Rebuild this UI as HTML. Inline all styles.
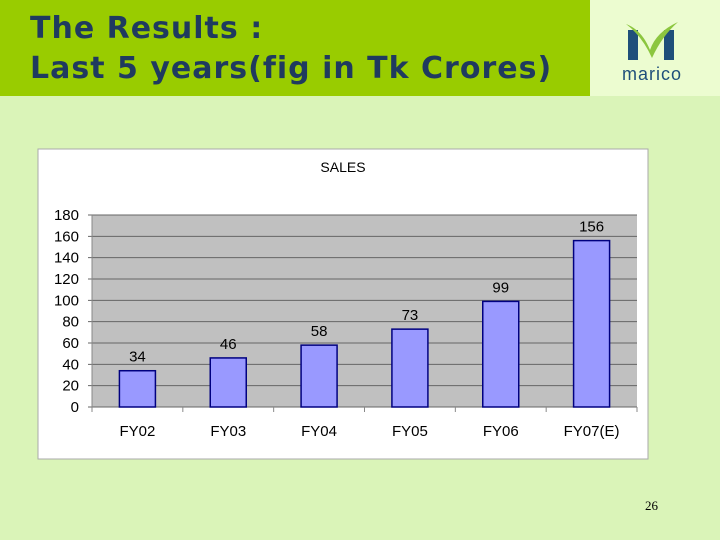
<!DOCTYPE html>
<html><head><meta charset="utf-8"><style>
body{margin:0;width:720px;height:540px;background:#daf4b8;position:relative;overflow:hidden;font-family:"Liberation Sans",sans-serif}
#hdr{position:absolute;left:0;top:0;width:590px;height:96px;background:#99cc00}
#title{position:absolute;left:30px;top:9px;font:bold 30px/40px "DejaVu Sans",sans-serif;color:#1f3a5f;letter-spacing:1px;white-space:nowrap}
#logo{position:absolute;left:590px;top:0;width:130px;height:96px;background:#ecfcd0}
#pg{position:absolute;left:645px;top:498px;font:13px "Liberation Serif",serif;color:#000}
</style></head><body>
<div id="hdr"></div>
<div id="title">The Results :<br>Last 5 years(fig in Tk Crores)</div>
<div id="logo">
<svg width="130" height="96">
<rect x="38" y="30" width="10" height="30" fill="#1f4f7a"/>
<rect x="74" y="30" width="10" height="30" fill="#1f4f7a"/>
<path d="M36 24 Q52 30 60 50 Q66 32 88 22 Q72 36 62 58 Q52 36 36 24Z" fill="#8cc63f"/>
<text x="62" y="80" text-anchor="middle" font-family="Liberation Sans,sans-serif" font-size="18" fill="#1f4f7a" letter-spacing="1">marico</text>
</svg></div>
<svg id="chart" style="position:absolute;left:0;top:0" width="720" height="540"></svg>
<div id="pg">26</div>
<script>
const categories=["FY02","FY03","FY04","FY05","FY06","FY07(E)"];
const sales=[34,46,58,73,99,156];
const yTicks=[0,20,40,60,80,100,120,140,160,180];
const NS="http://www.w3.org/2000/svg",svg=document.getElementById('chart');
function el(t,a,txt){const e=document.createElementNS(NS,t);for(const k in a)e.setAttribute(k,a[k]);if(txt!=null)e.textContent=txt;svg.appendChild(e);return e;}
const L=92,R=637,T=215,B=407,yMax=180;
const y=v=>B-(v/yMax)*(B-T);
const cw=(R-L)/categories.length;
const x=i=>L+cw*(i+0.5);
let e=el('rect',{x:38,y:149,width:610,height:310,fill:'#fff',stroke:'#aaa'});


e=el('text',{x:343,y:172,'text-anchor':'middle','font-size':14,fill:'#000'},'SALES');


e=el('rect',{x:L,y:T,width:R-L,height:B-T,fill:'#c0c0c0'});


yTicks.forEach(v=>{
 const g=el('line',{x1:L-4,x2:R,y1:y(v),y2:y(v),stroke:'#666','stroke-width':1});
 
 
 const t=el('text',{x:79,y:y(v)+5,'text-anchor':'end','font-size':15,fill:'#000'},v);
 
 
});
el('line',{x1:L,x2:L,y1:T,y2:B,stroke:'#888'});
for(let i=0;i<=categories.length;i++){el('line',{x1:L+cw*i,x2:L+cw*i,y1:B,y2:B+5,stroke:'#888'});}
categories.forEach((c,i)=>{
 const b=el('rect',{x:x(i)-18,y:y(sales[i]),width:36,height:B-y(sales[i]),fill:'#9999ff',stroke:'#000080','stroke-width':1.5});
 
 
 const v=el('text',{x:x(i),y:y(sales[i])-9,'text-anchor':'middle','font-size':15,fill:'#000'},sales[i]);
 
 
 const t=el('text',{x:x(i),y:436,'text-anchor':'middle','font-size':15,fill:'#000'},c);
 
 
});
</script>
</body></html>
